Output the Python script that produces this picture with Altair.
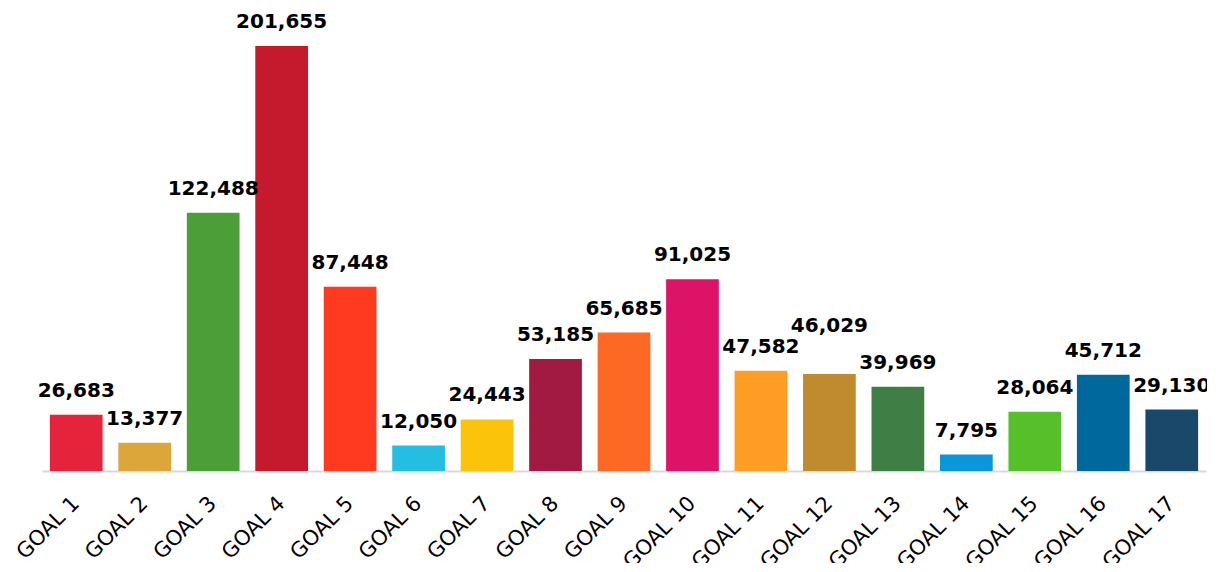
import altair as alt
import pandas as pd

goals = [f"GOAL {i}" for i in range(1, 18)]
values = [26683, 13377, 122488, 201655, 87448, 12050, 24443, 53185, 65685,
          91025, 47582, 46029, 39969, 7795, 28064, 45712, 29130]
colors = ["#E5243B", "#DDA63A", "#4C9F38", "#C5192D", "#FF3A21", "#26BDE2",
          "#FCC30B", "#A21942", "#FD6925", "#DD1367", "#FD9D24", "#BF8B2E",
          "#3F7E44", "#0A97D9", "#56C02B", "#00689D", "#19486A"]

df = pd.DataFrame({"goal": goals, "value": values})

x = alt.X("goal:N", sort=goals, title=None,
          scale=alt.Scale(paddingInner=0.23, paddingOuter=0.115),
          axis=alt.Axis(labelAngle=-45, labelAlign="right", labelBaseline="middle",
                        labelPadding=29, labelFontSize=21, labelFont="DejaVu Sans",
                        labelColor="#000000", ticks=False, domainColor="#d9d9d9",
                        domainWidth=2, labelOffset=0, labelLimit=200))
y = alt.Y("value:Q", title=None, axis=None,
          scale=alt.Scale(domain=[0, 201655], nice=False, zero=True))

bars = alt.Chart(df).mark_bar().encode(
    x=x, y=y,
    color=alt.Color("goal:N", sort=goals, scale=alt.Scale(domain=goals, range=colors), legend=None),
)

text_style = dict(font="DejaVu Sans", fontSize=20, fontWeight="bold", color="#000000",
                  baseline="alphabetic", align="center")

labels = alt.Chart(df).transform_filter("datum.goal != 'GOAL 12'").mark_text(dy=-18, **text_style).encode(
    x=alt.X("goal:N", sort=goals), y="value:Q", text=alt.Text("value:Q", format=",")
)
labels12 = alt.Chart(df).transform_filter("datum.goal == 'GOAL 12'").mark_text(dy=-42, **text_style).encode(
    x=alt.X("goal:N", sort=goals), y="value:Q", text=alt.Text("value:Q", format=",")
)

chart = alt.layer(bars, labels, labels12).properties(
    width=1164, height=425,
    autosize=alt.AutoSizeParams(type="none"),
    padding={"left": 34, "top": 38, "right": 1, "bottom": 92},
    background="#ffffff",
).configure_view(stroke=None)

chart.save("out.html", embed_options={"renderer": "svg", "actions": False})
